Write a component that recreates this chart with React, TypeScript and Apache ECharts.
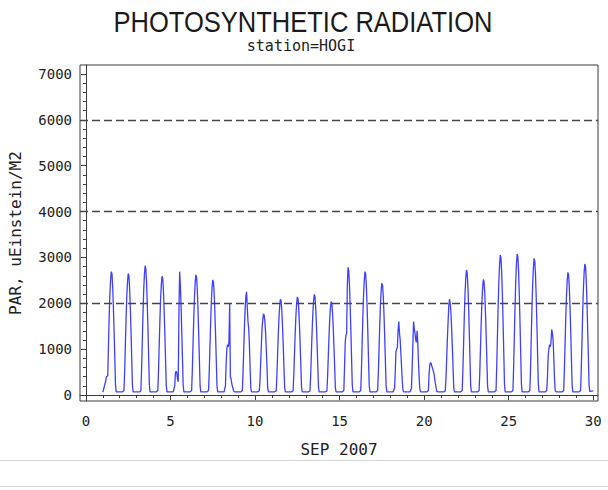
import React, { useEffect, useRef } from "react";
import * as echarts from "echarts";

// Hours of the day at which PAR values were read (UTC hours, each day)
const HOURS = [4, 5, 6, 7, 8, 9, 10, 11, 12, 13, 14, 15, 16, 17, 18, 19];
// Days of September 2007
const DAYS = [1, 2, 3, 4, 5, 6, 7, 8, 9, 10, 11, 12, 13, 14, 15, 16, 17, 18, 19, 20, 21, 22, 23, 24, 25, 26, 27, 28, 29];
// Hourly PAR (uEinstein/M2) per day
const HOURLY_PAR = [
  [300, 400, 400, 420, 1100, 1700, 2200, 2500, 2690, 2640, 2350, 1900, 1380, 800, 210, 70],
  [70, 70, 100, 530, 1110, 1670, 2150, 2460, 2650, 2600, 2330, 1910, 1380, 800, 210, 70],
  [70, 75, 100, 560, 1180, 1780, 2280, 2620, 2820, 2760, 2480, 2030, 1470, 850, 230, 70],
  [70, 70, 100, 520, 1090, 1630, 2100, 2410, 2590, 2540, 2280, 1860, 1350, 780, 210, 70],
  [70, 70, 200, 480, 520, 480, 350, 290, 1800, 2690, 2400, 1950, 1400, 800, 220, 70],
  [70, 70, 100, 520, 1100, 1650, 2120, 2440, 2620, 2570, 2310, 1890, 1360, 790, 210, 70],
  [70, 70, 100, 500, 1050, 1580, 2030, 2330, 2510, 2460, 2210, 1810, 1310, 750, 200, 70],
  [70, 70, 200, 700, 1000, 1100, 1050, 1150, 2000, 400, 350, 250, 180, 120, 80, 70],
  [70, 70, 100, 500, 1000, 1500, 1900, 2150, 2250, 1900, 1600, 1450, 1100, 600, 150, 70],
  [70, 70, 90, 300, 700, 1100, 1450, 1650, 1770, 1740, 1600, 1350, 1000, 600, 150, 70],
  [70, 70, 90, 420, 880, 1320, 1690, 1940, 2090, 2050, 1840, 1500, 1090, 630, 170, 70],
  [70, 70, 90, 430, 900, 1350, 1730, 1990, 2140, 2100, 1880, 1540, 1110, 640, 170, 70],
  [70, 70, 90, 440, 920, 1380, 1770, 2040, 2190, 2150, 1930, 1580, 1140, 660, 180, 70],
  [70, 70, 90, 410, 860, 1290, 1650, 1900, 2040, 2000, 1800, 1470, 1060, 610, 160, 70],
  [70, 70, 100, 600, 1150, 1300, 1350, 2400, 2785, 2700, 2400, 1950, 1400, 800, 220, 70],
  [70, 70, 100, 540, 1130, 1690, 2180, 2500, 2690, 2640, 2370, 1940, 1400, 810, 220, 70],
  [70, 70, 100, 490, 1020, 1540, 1980, 2270, 2440, 2390, 2150, 1760, 1270, 730, 200, 70],
  [70, 70, 150, 500, 950, 1000, 1050, 1400, 1600, 1350, 1200, 900, 600, 300, 100, 70],
  [70, 70, 150, 600, 1100, 1600, 1450, 1350, 1200, 1150, 1400, 1130, 700, 350, 120, 70],
  [70, 70, 100, 450, 650, 705, 690, 620, 580, 520, 470, 350, 250, 150, 80, 70],
  [70, 70, 90, 380, 800, 1250, 1600, 1950, 2090, 2000, 1800, 1450, 1050, 600, 160, 70],
  [70, 70, 100, 550, 1140, 1720, 2210, 2530, 2725, 2670, 2400, 1960, 1420, 820, 220, 70],
  [70, 70, 100, 500, 1060, 1590, 2040, 2340, 2520, 2470, 2220, 1810, 1310, 760, 200, 70],
  [70, 70, 100, 610, 1280, 1920, 2470, 2840, 3050, 2990, 2680, 2200, 1590, 920, 240, 70],
  [70, 70, 100, 620, 1290, 1940, 2490, 2860, 3075, 3010, 2710, 2210, 1600, 920, 250, 70],
  [70, 70, 100, 600, 1250, 1880, 2410, 2770, 2980, 2920, 2620, 2150, 1550, 890, 240, 70],
  [70, 70, 100, 400, 850, 1000, 1100, 1050, 1150, 1430, 1350, 1200, 800, 350, 100, 70],
  [70, 70, 100, 540, 1120, 1690, 2170, 2490, 2675, 2620, 2350, 1930, 1390, 800, 210, 70],
  [70, 70, 100, 570, 1200, 1800, 2310, 2660, 2856, 2800, 2510, 2060, 1490, 860, 230, 80],
];
// First and last readings of the record
const FIRST_POINT = [1.0, 60];
const LAST_POINT = [30.0, 90];

const Y_LABELS = [0, 1000, 2000, 3000, 4000, 5000, 6000, 7000];
const Y_MINOR = [0, 200, 400, 600, 800, 1000, 1200, 1400, 1600, 1800, 2000, 2200, 2400, 2600, 2800, 3000, 3200, 3400, 3600, 3800, 4000, 4200, 4400, 4600, 4800, 5000, 5200, 5400, 5600, 5800, 6000, 6200, 6400, 6600, 6800, 7000];
const X_LABELS = [0, 5, 10, 15, 20, 25, 30];
const X_MINOR = [0, 1, 2, 3, 4, 5, 6, 7, 8, 9, 10, 11, 12, 13, 14, 15, 16, 17, 18, 19, 20, 21, 22, 23, 24, 25, 26, 27, 28, 29, 30];
const REF_LINES = [2000, 4000, 6000];

const MONO = "'DejaVu Sans Mono', 'Liberation Mono', monospace";

export default function App() {
  const ref = useRef<HTMLDivElement>(null);
  useEffect(() => {
    if (!ref.current) return;
    const chart = echarts.init(ref.current, null, { renderer: "svg" });
    const data: number[][] = [FIRST_POINT];
    DAYS.forEach((d, i) => {
      HOURS.forEach((h, j) => {
        data.push([d + h / 24, HOURLY_PAR[i][j]]);
      });
    });
    data.push(LAST_POINT);

    const xMin = -0.35, xMax = 30.28, yMin = -130, yMax = 7195;
    const axisColor = "#3a3a3a";
    const plain = (v: number) => String(Math.round(v));

    chart.setOption({
      animation: false,
      backgroundColor: "#ffffff",
      grid: {
        left: 80, right: 10, top: 65, bottom: 89,
        containLabel: false, outerBoundsMode: "none",
        show: true, borderColor: axisColor, borderWidth: 1, backgroundColor: "transparent",
      },
      graphic: [
        {
          type: "text", x: 303, y: 22, scaleX: 0.88, scaleY: 1,
          style: { text: "PHOTOSYNTHETIC RADIATION", font: "29px 'Liberation Sans', Arial, sans-serif", fill: "#1a1a1a", textAlign: "center", textVerticalAlign: "middle" },
        },
        {
          type: "text", x: 301, y: 46,
          style: { text: "station=HOGI", font: "15px " + MONO, fill: "#222", textAlign: "center", textVerticalAlign: "middle" },
        },
        { type: "line", shape: { x1: 0, y1: 460.5, x2: 608, y2: 460.5 }, style: { stroke: "#d6d6d6", lineWidth: 1 } },
        { type: "line", shape: { x1: 0, y1: 486.5, x2: 608, y2: 486.5 }, style: { stroke: "#d6d6d6", lineWidth: 1 } },
      ],
      xAxis: [
        {
          type: "value", min: xMin, max: xMax, position: "bottom",
          name: "SEP 2007", nameLocation: "middle", nameGap: 40,
          nameTextStyle: { fontFamily: MONO, fontSize: 16, color: "#222" },
          axisLine: { show: true, lineStyle: { color: axisColor, width: 1 } },
          axisTick: { show: true, customValues: X_LABELS, length: 5, inside: false, lineStyle: { color: axisColor } },
          axisLabel: { show: true, customValues: X_LABELS, formatter: plain, margin: 13, fontFamily: MONO, fontSize: 14, color: "#222" },
          splitLine: { show: false },
        },
        {
          type: "value", min: xMin, max: xMax, position: "bottom", offset: 0,
          axisLine: { show: false },
          axisTick: { show: true, customValues: X_MINOR, length: 3, lineStyle: { color: axisColor } },
          axisLabel: { show: false },
          splitLine: { show: false },
        },
      ],
      yAxis: [
        {
          type: "value", min: yMin, max: yMax, position: "left",
          name: "PAR, uEinstein/M2", nameLocation: "middle", nameGap: 57,
          nameTextStyle: { fontFamily: MONO, fontSize: 16, color: "#222" },
          axisLine: { show: true, lineStyle: { color: axisColor, width: 1 } },
          axisTick: { show: true, customValues: Y_LABELS, length: 5, lineStyle: { color: axisColor } },
          axisLabel: { show: true, customValues: Y_LABELS, formatter: plain, margin: 8, fontFamily: MONO, fontSize: 14, color: "#222" },
          splitLine: { show: false },
        },
        {
          type: "value", min: yMin, max: yMax, position: "left", offset: 0,
          axisLine: { show: false },
          axisTick: { show: true, customValues: Y_MINOR, length: 3, lineStyle: { color: axisColor } },
          axisLabel: { show: false },
          splitLine: { show: false },
        },
      ],
      series: [
        {
          type: "line",
          xAxisIndex: 0, yAxisIndex: 0,
          data,
          showSymbol: false,
          symbol: "none",
          lineStyle: { color: "#3f3fff", width: 1.3 },
          markLine: {
            silent: true,
            symbol: "none",
            label: { show: false },
            lineStyle: { color: "#444", type: [8, 4], width: 1.3 },
            data: REF_LINES.map((v) => ({ yAxis: v })),
          },
        },
      ],
    });
    return () => chart.dispose();
  }, []);
  return <div ref={ref} style={{ position: "fixed", left: 0, top: 0, width: 608, height: 490, background: "#fff" }} />;
}
